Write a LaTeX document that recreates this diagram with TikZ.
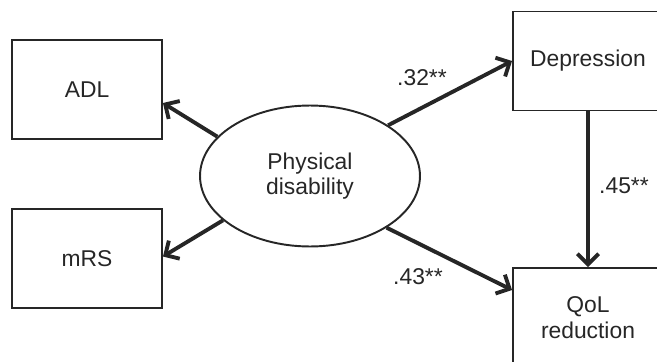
\documentclass[tikz,border=0pt]{standalone}
\usepackage{fontspec}
\setmainfont{Liberation Sans}
\usetikzlibrary{shapes.geometric,arrows.meta}
\begin{document}
\begin{tikzpicture}[x=0.02cm,y=-0.02cm,font=\fontsize{13}{14.6}\selectfont]
    \tikzstyle{box}=[rectangle,draw=black!85,line width=1.1pt,minimum width=3cm,minimum height=1.98cm,align=center,text=black!85]
    \tikzstyle{arrw}=[line width=2.2pt,draw=black!85,-{Straight Barb[length=6pt,width=12pt]}]
    \tikzstyle{coef}=[text=black!85,inner sep=0pt]
    \path[use as bounding box,clip] (0,0) rectangle (657,362);

    \node[box] (ADL) at (87,89.5) {ADL};
    \node[box] (mRS) at (87,258.5) {mRS};
    \node[box] (Dep) at (588,61) {Depression};
    \node[box] (QoL) at (588,317.5) {QoL\\reduction};
    \node[ellipse,draw=black!85,line width=1.1pt,minimum width=4.4cm,minimum height=2.82cm,inner sep=0pt,align=center,text=black!85] (Phys) at (310,176) {Physical\\disability};

    \draw[arrw] (Phys.157) -- ([yshift=-0.27cm]ADL.east);
    \draw[arrw] (Phys.207) -- ([yshift=0.04cm]mRS.east);
    \draw[arrw] (Phys.33) -- (Dep.west);
    \draw[arrw] (Phys.-34) -- ([yshift=0.55cm]QoL.west);
    \draw[arrw] (Dep) -- (QoL);

    \node[coef] (c-PD) at (422,78) {.32**};
    \node[coef] (c-PQ) at (418,277) {.43**};
    \node[coef] (c-DQ) at (624,186) {.45**};
\end{tikzpicture}
\end{document}
